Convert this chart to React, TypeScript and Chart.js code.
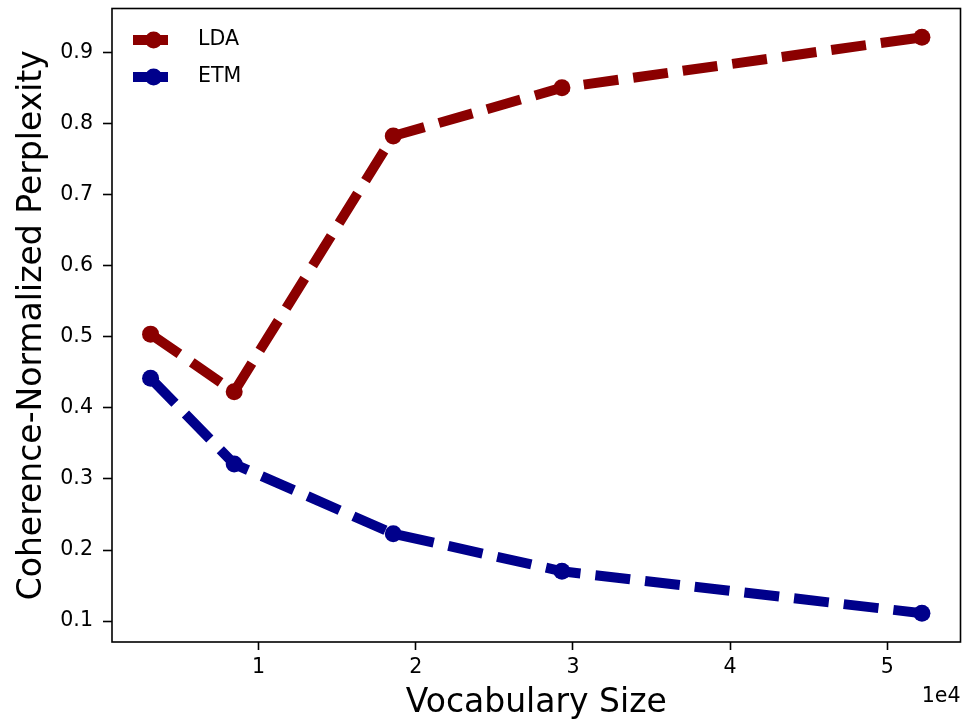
import React, { useEffect, useRef } from "react";
import { Chart, registerables } from "chart.js";

Chart.register(...registerables);

const vocabSizes = [3130, 8450, 18570, 29300, 52200];
const ldaValues = [0.504, 0.423, 0.783, 0.851, 0.922];
const etmValues = [0.442, 0.321, 0.223, 0.17, 0.111];
const xTickValues = [10000, 20000, 30000, 40000, 50000];
const yTickValues = [0.1, 0.2, 0.3, 0.4, 0.5, 0.6, 0.7, 0.8, 0.9];
const seriesNames = ["LDA", "ETM"];
const seriesColors = ["#8b0000", "#00008b"];
const xTitle = "Vocabulary Size";
const yTitle = "Coherence-Normalized Perplexity";
const offsetText = "1e4";

const FONT = "'DejaVu Sans', sans-serif";
const LW = 10;
const MR = 8.5;

function margins(vals: number[]) {
  const lo = Math.min(...vals);
  const hi = Math.max(...vals);
  const s = hi - lo;
  return { min: lo - 0.05 * s, max: hi + 0.05 * s };
}

const framePlugin = {
  id: "frameAndLegend",
  afterDatasetsDraw(chart: any) {
    const { ctx, chartArea } = chart;
    const { left, top, right, bottom } = chartArea;
    ctx.save();
    ctx.strokeStyle = "#000";
    ctx.lineWidth = 1.6;
    ctx.strokeRect(left, top, right - left, bottom - top);

    // legend
    const x0 = left + 21;
    seriesNames.forEach((name, i) => {
      const y = top + 31.5 + i * 37;
      ctx.strokeStyle = seriesColors[i];
      ctx.fillStyle = seriesColors[i];
      ctx.lineWidth = LW;
      ctx.lineCap = "butt";
      ctx.beginPath();
      ctx.moveTo(x0, y);
      ctx.lineTo(x0 + 35, y);
      ctx.stroke();
      ctx.beginPath();
      ctx.arc(x0 + 20.6, y, MR, 0, Math.PI * 2);
      ctx.fill();
      ctx.fillStyle = "#000";
      ctx.font = `20.6px ${FONT}`;
      ctx.textBaseline = "middle";
      ctx.textAlign = "left";
      ctx.fillText(name, left + 86, y);
    });

    // offset text
    ctx.fillStyle = "#000";
    ctx.font = `20.6px ${FONT}`;
    ctx.textAlign = "right";
    ctx.textBaseline = "middle";
    ctx.fillText(offsetText, right, bottom + 55);
    ctx.restore();
  },
};

export default function App() {
  const ref = useRef<HTMLCanvasElement | null>(null);
  useEffect(() => {
    if (!ref.current) return;
    const xr = margins(vocabSizes);
    const yr = margins([...ldaValues, ...etmValues]);
    const mk = (vals: number[], i: number) => ({
      label: seriesNames[i],
      data: vals.map((v, j) => ({ x: vocabSizes[j], y: v })),
      borderColor: seriesColors[i],
      backgroundColor: seriesColors[i],
      borderWidth: LW,
      borderDash: [35, 15],
      borderCapStyle: "butt",
      tension: 0,
      pointRadius: MR,
      pointHoverRadius: MR,
      pointBorderWidth: 0,
      pointBackgroundColor: seriesColors[i],
      fill: false,
    });
    const chart = new Chart(ref.current, {
      type: "line",
      data: { datasets: [mk(ldaValues, 0), mk(etmValues, 1)] as any },
      plugins: [framePlugin],
      options: {
        animation: false,
        responsive: false,
        maintainAspectRatio: false,
        layout: { padding: { top: 8, right: 0, left: 0, bottom: 0 } },
        plugins: { legend: { display: false }, tooltip: { enabled: false } },
        scales: {
          x: {
            type: "linear",
            min: xr.min,
            max: xr.max,
            afterFit: (s: any) => {
              s.height = 85;
              s.paddingLeft = 0;
              s.paddingRight = 0;
            },
            afterBuildTicks: (s: any) => {
              s.ticks = xTickValues.map((v) => ({ value: v }));
            },
            border: { display: false },
            grid: {
              drawOnChartArea: false,
              drawTicks: true,
              tickLength: 8,
              tickWidth: 1.6,
              tickColor: "#000",
            },
            ticks: {
              color: "#000",
              font: { family: FONT, size: 20.6 },
              padding: 5,
              maxRotation: 0,
              autoSkip: false,
              callback: (v: any) => String(Math.round(Number(v) / 10000)),
            },
            title: {
              display: true,
              text: xTitle,
              color: "#000",
              font: { family: FONT, size: 33 },
              padding: { top: 0, bottom: 4 },
            },
          },
          y: {
            type: "linear",
            min: yr.min,
            max: yr.max,
            afterFit: (s: any) => {
              s.width = 112;
              s.paddingTop = 0;
              s.paddingBottom = 0;
            },
            afterBuildTicks: (s: any) => {
              s.ticks = yTickValues.map((v) => ({ value: v }));
            },
            border: { display: false },
            grid: {
              drawOnChartArea: false,
              drawTicks: true,
              tickLength: 9,
              tickWidth: 1.6,
              tickColor: "#000",
            },
            ticks: {
              color: "#000",
              font: { family: FONT, size: 20.6 },
              padding: 10,
              autoSkip: false,
              callback: (v: any) => Number(v).toFixed(1),
            },
            title: {
              display: true,
              text: yTitle,
              color: "#000",
              font: { family: FONT, size: 33 },
              padding: { top: 12.5, bottom: 0 },
            },
          },
        },
      } as any,
    });
    return () => chart.destroy();
  }, []);
  return (
    <div style={{ position: "absolute", left: 0, top: 0, width: 963, height: 727, background: "#fff", overflow: "hidden" }}>
      <canvas ref={ref} width={969} height={727} style={{ display: "block" }} />
    </div>
  );
}
